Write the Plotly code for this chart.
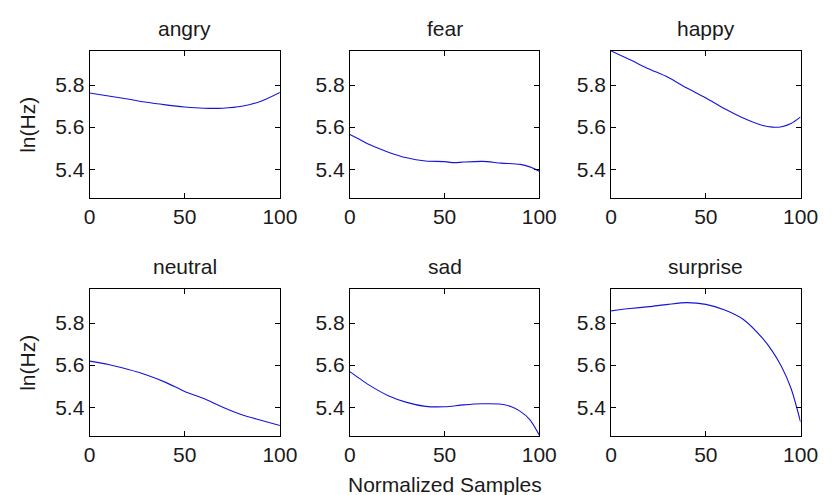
import plotly.graph_objects as go

W, H = 837, 495

emotions = ["angry", "fear", "happy", "neutral", "sad", "surprise"]

angry_x = [0, 10, 20, 30, 40, 50, 60, 70, 80, 90, 100]
angry_y = [5.762, 5.748, 5.734, 5.718, 5.706, 5.696, 5.690, 5.690, 5.699, 5.723, 5.765]

fear_x = [0, 5, 10, 20, 30, 40, 50, 55, 60, 70, 80, 90, 95, 100]
fear_y = [5.565, 5.542, 5.518, 5.482, 5.454, 5.439, 5.436, 5.431, 5.434, 5.437, 5.429, 5.423, 5.411, 5.390]

happy_x = [0, 10, 20, 30, 40, 50, 60, 70, 80, 85, 90, 95, 100]
happy_y = [5.962, 5.920, 5.877, 5.837, 5.786, 5.739, 5.687, 5.642, 5.608, 5.600, 5.602, 5.617, 5.649]

neutral_x = [0, 10, 20, 30, 40, 50, 60, 70, 80, 90, 100]
neutral_y = [5.619, 5.603, 5.580, 5.553, 5.518, 5.475, 5.441, 5.400, 5.364, 5.338, 5.313]

sad_x = [0, 5, 10, 20, 30, 40, 50, 60, 70, 80, 85, 90, 95, 100]
sad_y = [5.569, 5.537, 5.506, 5.456, 5.423, 5.404, 5.402, 5.411, 5.416, 5.414, 5.403, 5.380, 5.341, 5.268]

surprise_x = [0, 10, 20, 30, 40, 50, 60, 70, 80, 85, 90, 95, 100]
surprise_y = [5.858, 5.869, 5.878, 5.889, 5.897, 5.889, 5.862, 5.816, 5.727, 5.668, 5.592, 5.489, 5.330]

series_x = [angry_x, fear_x, happy_x, neutral_x, sad_x, surprise_x]
series_y = [angry_y, fear_y, happy_y, neutral_y, sad_y, surprise_y]

x_ticks = [0, 50, 100]
y_ticks = [5.4, 5.6, 5.8]
x_range = [0, 100]
y_range = [5.263, 5.962]

y_label = "ln(Hz)"
x_label = "Normalized Samples"

# pixel geometry of axes boxes
col_px = [(86, 282), (354, 549), (623, 818)]
row_px = [(51, 198), (289, 436)]

FONT = "Liberation Sans, Arial"
FS = 21
TXT = "#1a1a1a"

fig = go.Figure()
annotations = []
for i, name in enumerate(emotions):
    r, c = divmod(i, 3)
    n = i + 1
    xa = "x" if n == 1 else f"x{n}"
    ya = "y" if n == 1 else f"y{n}"
    fig.add_trace(go.Scatter(
        x=series_x[i], y=series_y[i], mode="lines",
        line=dict(color="#1414d8", width=1.1, shape="spline", smoothing=0.8),
        xaxis=xa, yaxis=ya, showlegend=False, hoverinfo="skip"))
    x0, x1 = col_px[c]
    y0, y1 = row_px[r]
    common = dict(showline=True, linecolor="black", linewidth=1, mirror="ticks",
                  ticks="inside", ticklen=5, tickcolor="black", showgrid=False,
                  zeroline=False, tickfont=dict(family=FONT, size=FS, color=TXT))
    fig.layout[f"xaxis{'' if n == 1 else n}"] = dict(
        domain=[x0 / W, x1 / W], anchor=ya, range=x_range,
        tickvals=x_ticks, ticktext=[str(v) for v in x_ticks], **common)
    fig.layout[f"yaxis{'' if n == 1 else n}"] = dict(
        domain=[1 - y1 / H, 1 - y0 / H], anchor=xa, range=y_range,
        tickvals=y_ticks, ticktext=[f"{v:.1f}" for v in y_ticks], **common)
    annotations.append(dict(
        text=name, x=(x0 + x1) / 2 / W, y=1 - (y0 - 23) / H,
        xref="paper", yref="paper", xanchor="center", yanchor="middle",
        showarrow=False, font=dict(family=FONT, size=FS, color=TXT)))
    if c == 0:
        annotations.append(dict(
            text=y_label, x=22 / W, y=1 - (y0 + y1) / 2 / H, textangle=-90,
            xref="paper", yref="paper", xanchor="center", yanchor="middle",
            showarrow=False, font=dict(family=FONT, size=FS, color=TXT)))

annotations.append(dict(
    text=x_label, x=(col_px[1][0] + col_px[1][1]) / 2 / W, y=1 - 484 / H,
    xref="paper", yref="paper", xanchor="center", yanchor="middle",
    showarrow=False, font=dict(family=FONT, size=FS, color=TXT)))

fig.update_layout(
    width=W, height=H, margin=dict(l=0, r=0, t=0, b=0),
    paper_bgcolor="white", plot_bgcolor="white",
    annotations=annotations)

fig.write_html("out.html")
